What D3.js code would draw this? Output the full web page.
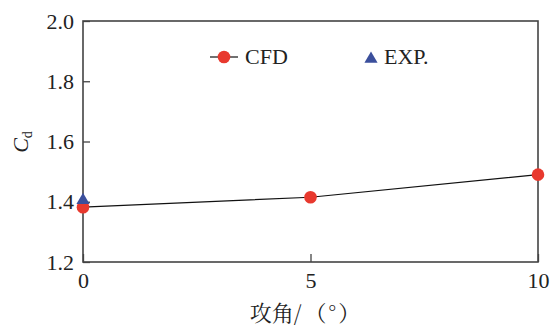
<!DOCTYPE html>
<html><head><meta charset="utf-8">
<script src="https://cdn.jsdelivr.net/npm/d3@7"></script>
<style>body{margin:0;background:#fff}svg{display:block}</style>
</head><body><svg id="c" width="550" height="326"></svg>
<script>
const angles = [0, 5, 10];
const cfd = [1.382, 1.415, 1.490];
const expAngles = [0];
const expVals = [1.405];
const yTicks = [1.2, 1.4, 1.6, 1.8, 2.0];
const xTicks = [0, 5, 10];

const svg = d3.select("#c");
const L = 83, R = 538, T = 21, B = 262;
const x = d3.scaleLinear().domain([0, 10]).range([L, R]);
const y = d3.scaleLinear().domain([1.2, 2.0]).range([B, T]);
const serif = "Liberation Serif";
const frame = "#444";

const ya = svg.append("g").attr("transform", `translate(${L},0)`)
  .call(d3.axisLeft(y).tickValues(yTicks).tickFormat(d3.format(".1f")).tickSize(-7).tickPadding(9));
const xa = svg.append("g").attr("transform", `translate(0,${B})`)
  .call(d3.axisBottom(x).tickValues(xTicks).tickFormat(d3.format("d")).tickSize(-8).tickPadding(10));
[ya, xa].forEach(g => {
  g.select(".domain").remove();
  g.selectAll("line").attr("stroke", frame).attr("stroke-width", 1.3);
  g.selectAll("text").attr("font-family", serif).attr("font-size", 22).attr("fill", "#222");
});
svg.append("rect").attr("x", L).attr("y", T).attr("width", R - L).attr("height", B - T)
  .attr("fill", "none").attr("stroke", frame).attr("stroke-width", 1.6);

svg.append("path").datum(angles.map((a, i) => [a, cfd[i]]))
  .attr("d", d3.line().x(d => x(d[0])).y(d => y(d[1])))
  .attr("fill", "none").attr("stroke", "#111").attr("stroke-width", 1.2);
const red = "#e8392e", blue = "#3b4f9c";
svg.selectAll(".cfd").data(angles).enter().append("circle")
  .attr("cx", d => x(d)).attr("cy", (d, i) => y(cfd[i])).attr("r", 6.3).attr("fill", red);
const tri = d3.symbol().type(d3.symbolTriangle).size(75);
svg.selectAll(".exp").data(expAngles).enter().append("path")
  .attr("d", tri).attr("transform", (d, i) => `translate(${x(d)},${y(expVals[i])})`).attr("fill", blue);

const lg = svg.append("g");
lg.append("line").attr("x1", 210).attr("x2", 238).attr("y1", 57).attr("y2", 57).attr("stroke", "#111").attr("stroke-width", 1.2);
lg.append("circle").attr("cx", 224).attr("cy", 57).attr("r", 6.3).attr("fill", red);
lg.append("text").attr("x", 245).attr("y", 64).text("CFD").attr("font-family", serif).attr("font-size", 22).attr("fill", "#222");
lg.append("path").attr("d", tri).attr("transform", "translate(371,59)").attr("fill", blue);
lg.append("text").attr("x", 384).attr("y", 64).text("EXP.").attr("font-family", serif).attr("font-size", 22).attr("fill", "#222");

const xt = svg.append("text").attr("x", 306).attr("y", 321).attr("text-anchor", "middle")
  .attr("font-family", "'Noto Serif CJK SC','Noto Sans CJK SC',sans-serif").attr("font-size", 22).attr("fill", "#222");
xt.append("tspan").text("攻角/");
xt.append("tspan").attr("dx", 3).attr("letter-spacing", 2).text("（°）");
const yl = svg.append("text").attr("transform", "translate(28,142) rotate(-90)").attr("text-anchor", "middle")
  .attr("font-family", serif).attr("font-size", 22).attr("fill", "#222");
yl.append("tspan").attr("font-style", "italic").text("C");
yl.append("tspan").attr("font-size", 14).attr("dy", 4).text("d");
</script></body></html>
